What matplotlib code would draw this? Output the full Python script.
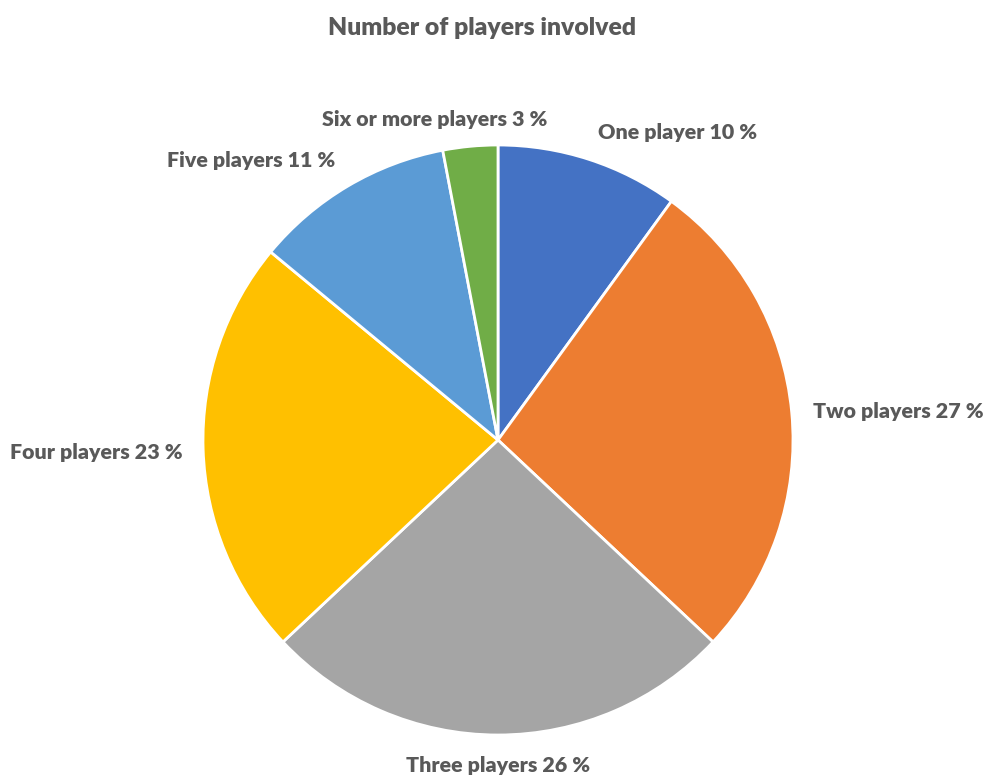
import matplotlib.pyplot as plt

# share of incidents by number of players involved
categories = ["One player", "Two players", "Three players", "Four players",
              "Five players", "Six or more players"]
shares = [10, 27, 26, 23, 11, 3]
colours = ["#4472C4", "#ED7D31", "#A5A5A5", "#FFC000", "#5B9BD5", "#70AD47"]

# label anchors, in units of the pie radius
label_pos = [(0.607, 1.041), (1.356, 0.098), (0.0, -1.102),
             (-1.363, -0.041), (-0.837, 0.949), (-0.214, 1.088)]

plt.rcParams['font.family'] = ['Lato', 'DejaVu Sans']
text_col = "#595959"

fig = plt.figure(figsize=(9.84, 7.76), dpi=100)
cx, cy, r = 498, 776 - 440, 295
ax = fig.add_axes([(cx - r) / 984, (cy - r) / 776, 2 * r / 984, 2 * r / 776])

ax.pie(shares, colors=colours, startangle=90, counterclock=False, radius=1,
       wedgeprops=dict(edgecolor="white", linewidth=2))
ax.set_xlim(-1, 1)
ax.set_ylim(-1, 1)
ax.set_aspect("equal")
ax.axis("off")

for name, val, (x, y) in zip(categories, shares, label_pos):
    ax.text(x, y, f"{name} {val} %", ha="center", va="center", fontsize=15.4,
            fontweight="heavy", color=text_col, clip_on=False)

fig.text(482 / 984, 1 - 28 / 776, "Number of players involved", ha="center",
         va="center", fontsize=17.8, fontweight="heavy", color=text_col)

fig.savefig("out.png", dpi=100)
